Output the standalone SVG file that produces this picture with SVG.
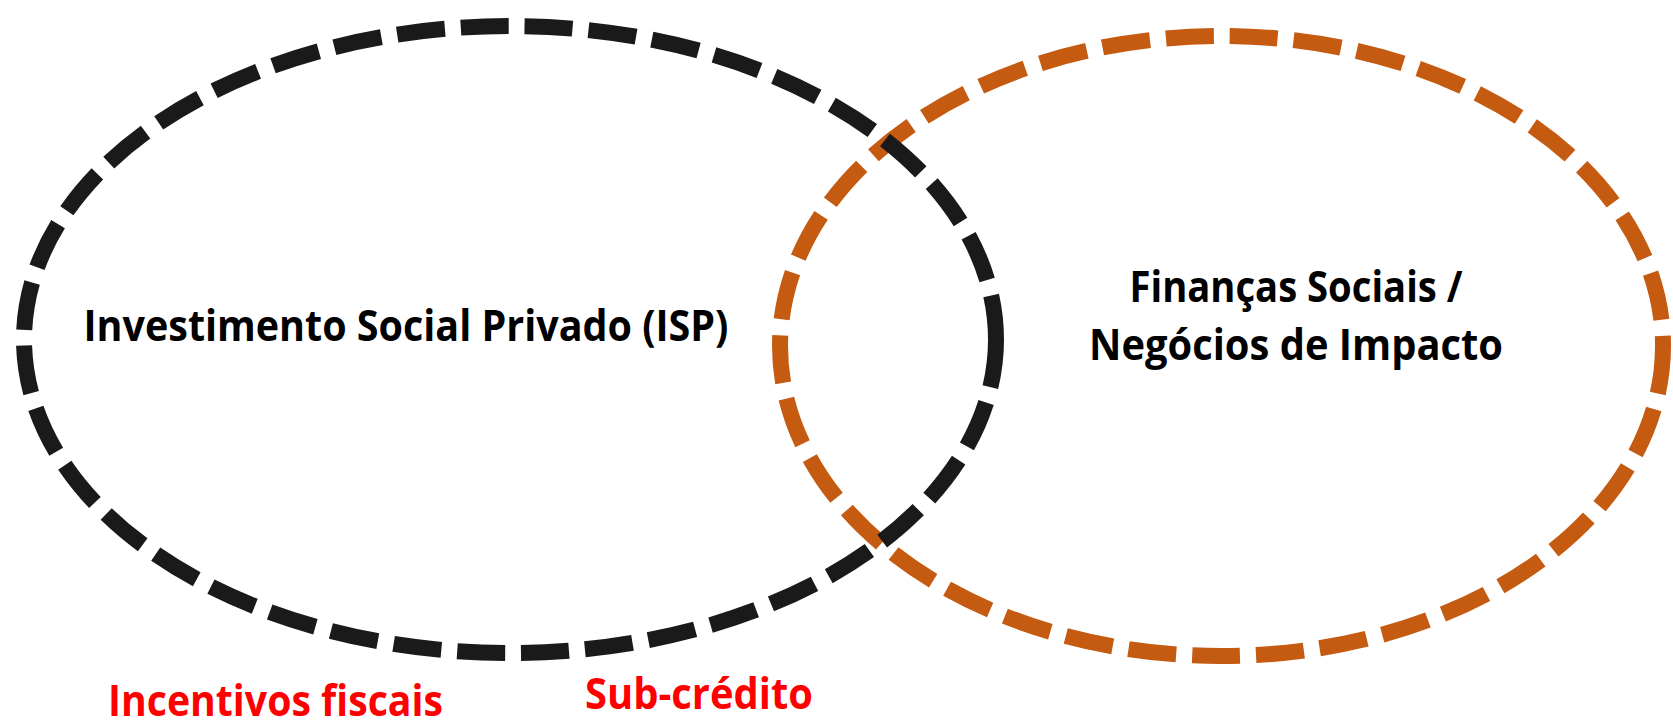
<svg xmlns="http://www.w3.org/2000/svg" width="1673" height="727" viewBox="0 0 1673 727">
<style>
.ring{fill:none;stroke-width:16;stroke-dasharray:48 16;stroke-linecap:butt}
.lbl{font-family:"Open Sans","Liberation Sans",Arial,sans-serif;font-weight:bold;font-size:43px;text-anchor:middle}
.dark{fill:#000000}
.red{fill:#ff0000}
</style>
<rect width="1673" height="727" fill="#ffffff"/>
<g id="node-financas">
<ellipse class="ring" cx="1221.5" cy="346" rx="441.5" ry="310" stroke="#c55a11"/>
<text class="lbl dark" x="1296" y="302" textLength="333" lengthAdjust="spacingAndGlyphs">Finanças Sociais /</text>
<text class="lbl dark" x="1296" y="360" textLength="414" lengthAdjust="spacingAndGlyphs">Negócios de Impacto</text>
</g>
<g id="node-isp">
<ellipse class="ring" cx="510" cy="339.5" rx="486" ry="313.5" stroke="#1a1a1a"/>
<text class="lbl dark" x="406" y="341" textLength="645" lengthAdjust="spacingAndGlyphs">Investimento Social Privado (ISP)</text>
</g>
<g id="connectors"></g>
<g id="labels">
<text class="lbl red" x="275.5" y="716" textLength="335" lengthAdjust="spacingAndGlyphs">Incentivos fiscais</text>
<text class="lbl red" x="699" y="709" textLength="228" lengthAdjust="spacingAndGlyphs">Sub-crédito</text>
</g>
</svg>
